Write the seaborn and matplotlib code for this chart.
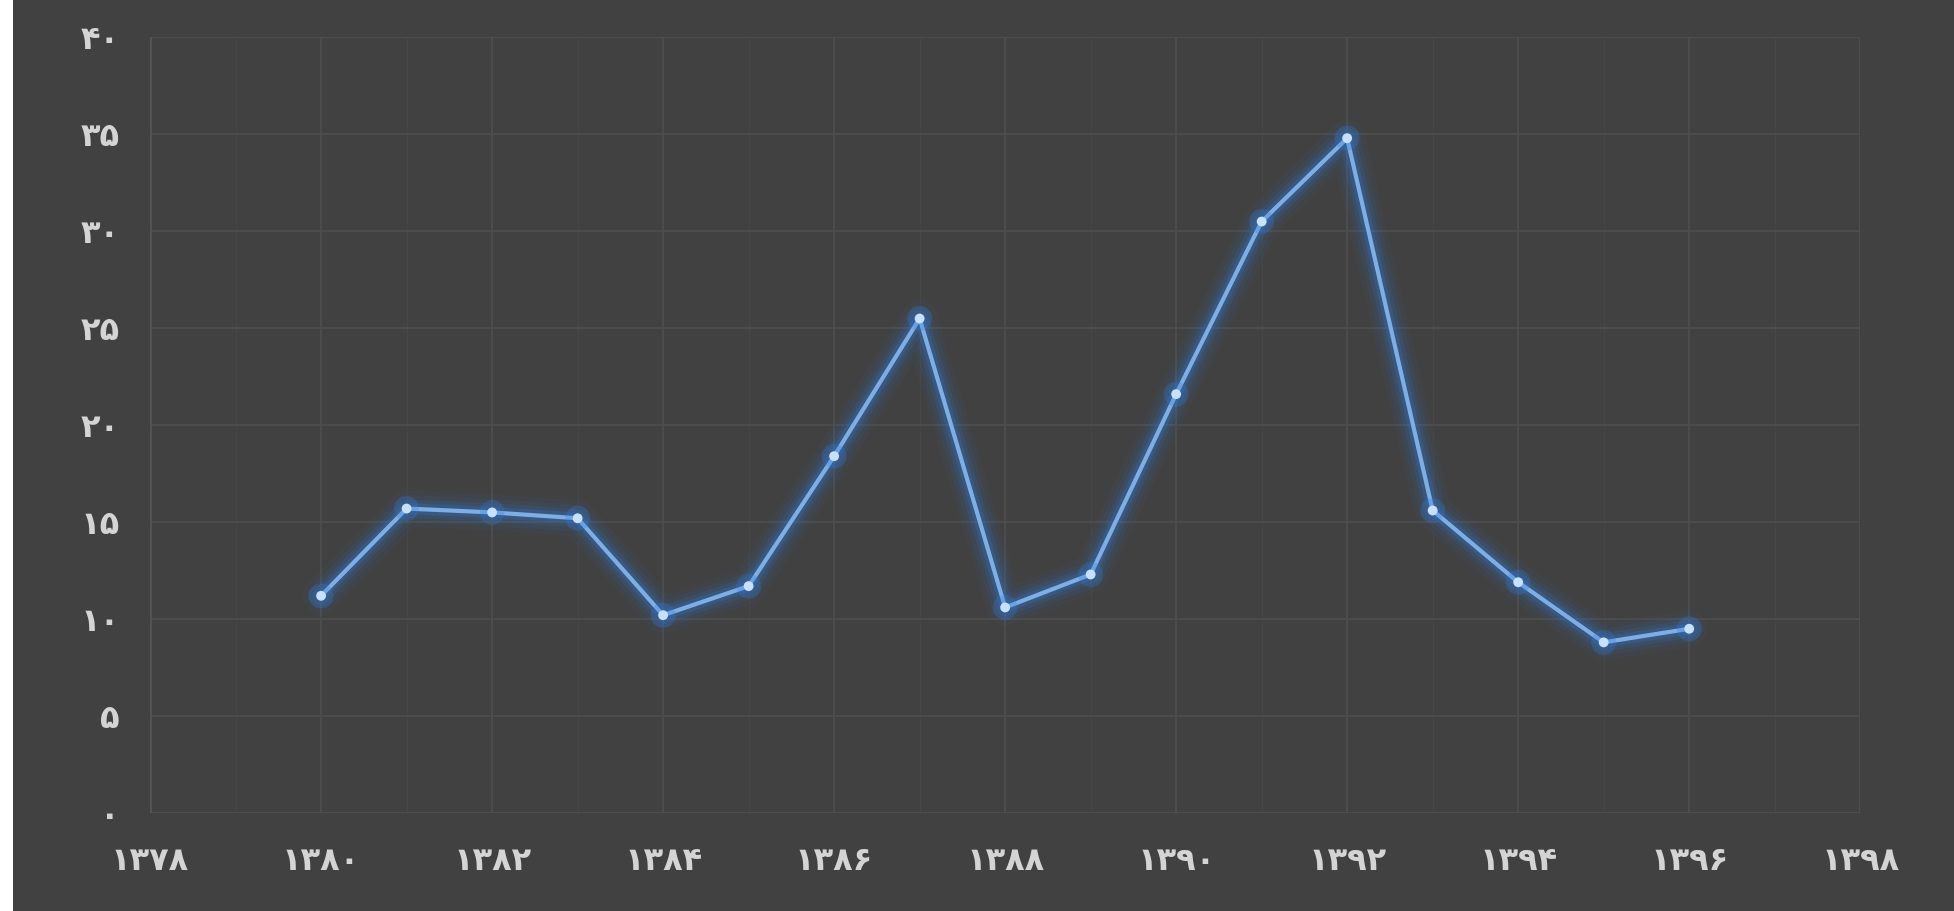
import matplotlib
matplotlib.use("Agg")
import matplotlib.pyplot as plt
import matplotlib.patches as mpatches
import pandas as pd
import seaborn as sns

# Data (Persian calendar years)
years = [1380, 1381, 1382, 1383, 1384, 1385, 1386, 1387, 1388,
         1389, 1390, 1391, 1392, 1393, 1394, 1395, 1396]
values = [11.2, 15.7, 15.5, 15.2, 10.2, 11.7, 18.4, 25.5, 10.6,
          12.3, 21.6, 30.5, 34.8, 15.6, 11.9, 8.8, 9.5]
x_ticks = list(range(1378, 1399, 2))
y_ticks = list(range(0, 41, 5))

df = pd.DataFrame({'year': years, 'value': values})

fa_digits = str.maketrans('0123456789', '۰۱۲۳۴۵۶۷۸۹')


def to_fa(n):
    return str(n).translate(fa_digits)


sns.set_style('dark')
plt.rcParams['font.family'] = ['DejaVu Sans']

bg = '#414141'
fig = plt.figure(figsize=(19.54, 9.11), dpi=100, facecolor=bg)
ax = fig.add_axes([0.0768, 0.1076, 0.8752, 0.8514])
ax.set_facecolor(bg)

# white strip on the left edge of the picture
fig.patches.append(mpatches.Rectangle((0, 0), 13 / 1954, 1, transform=fig.transFigure,
                                      facecolor='white', edgecolor='none', zorder=0))

# glow under the line
for lw, a in [(26, 0.05), (19, 0.08), (13, 0.13), (8, 0.22)]:
    sns.lineplot(data=df, x='year', y='value', color='#2f7ee0', linewidth=lw,
                 alpha=a, ax=ax, legend=False, solid_capstyle='round')
sns.lineplot(data=df, x='year', y='value', color='#7eaee6', linewidth=3.0,
             ax=ax, legend=False)
sns.scatterplot(data=df, x='year', y='value', color='#2f7ee0', s=320, alpha=0.25,
                edgecolor='none', ax=ax, legend=False, zorder=4)
sns.scatterplot(data=df, x='year', y='value', color='#c7e0fb', s=50,
                edgecolor='none', ax=ax, legend=False, zorder=5)

ax.set_xlim(1378, 1398)
ax.set_ylim(0, 40)
ax.set_xticks(x_ticks)
ax.set_xticklabels([to_fa(t) for t in x_ticks])
ax.set_yticks(y_ticks)
ax.set_yticklabels([to_fa(t) for t in y_ticks])
ax.set_xticks(list(range(1378, 1399)), minor=True)

ax.grid(True, which='major', color='#4e4e4e', linewidth=1.3)
ax.grid(True, which='minor', axis='x', color='#464646', linewidth=0.8)
ax.tick_params(axis='both', which='both', length=0, labelsize=23,
               labelcolor='#d4d4d4')
for lbl in ax.get_xticklabels() + ax.get_yticklabels():
    lbl.set_fontweight('bold')
ax.tick_params(axis='x', pad=24)
ax.tick_params(axis='y', pad=22)
for s in ax.spines.values():
    s.set_visible(False)
ax.axvline(1378, color='#555555', linewidth=2, zorder=1)
ax.set_xlabel('')
ax.set_ylabel('')

fig.savefig('out.png', dpi=100, facecolor=bg)
